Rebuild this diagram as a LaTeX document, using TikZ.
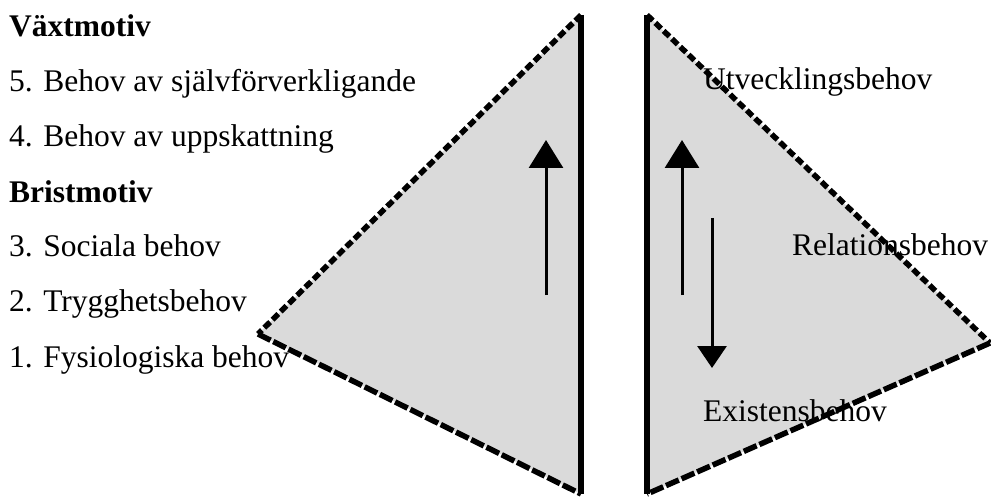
\documentclass[tikz,border=0pt]{standalone}
\usepackage{fontspec}
\setmainfont{Liberation Serif}
\usetikzlibrary{arrows.meta}
\definecolor{trifill}{RGB}{218,218,218}
\begin{document}
\begin{tikzpicture}[x=1pt,y=-1pt,
  lbl/.style={anchor=base west,inner sep=0pt,font=\fontsize{31.5}{31.5}\selectfont},
  headlbl/.style={anchor=base west,inner sep=0pt,font=\fontsize{31.5}{31.5}\selectfont\bfseries},
  upslant/.style={line width=5.5pt,dash pattern=on 8pt off 3.5pt},
  lowslant/.style={line width=5.5pt,dash pattern=on 14pt off 3pt},
  spine/.style={line width=6pt},
  arrup/.style={line width=3pt,-{Triangle[width=34pt,length=28pt]}},
  arrdn/.style={line width=3pt,-{Triangle[width=29pt,length=22pt]}}]
\useasboundingbox (0,0) rectangle (991,497);
% triangle corners
\coordinate (Ltop) at (581,15);
\coordinate (Lbot) at (581,494);
\coordinate (Ltip) at (258,334);
\coordinate (Rtop) at (647,15);
\coordinate (Rbot) at (647,494);
\coordinate (Rtip) at (990,343);
% fills
\fill[trifill] (Ltop) -- (Ltip) -- (Lbot) -- cycle;
\fill[trifill] (Rtop) -- (Rtip) -- (Rbot) -- cycle;
% left texts
\node[headlbl] (h1) at (9,37) {Växtmotiv};
\node[lbl] (t5) at (9,92) {5. Behov av självförverkligande};
\node[lbl] (t4) at (9,147) {4. Behov av uppskattning};
\node[headlbl] (h2) at (9,203) {Bristmotiv};
\node[lbl] (t3) at (9,257) {3. Sociala behov};
\node[lbl] (t2) at (9,312) {2. Trygghetsbehov};
\node[lbl] (t1) at (9,367) {1. Fysiologiska behov};
% right texts
\node[lbl] (u) at (703,90) {Utvecklingsbehov};
\node[lbl] (r) at (792,256) {Relationsbehov};
\node[lbl] (e) at (703,421) {Existensbehov};
% edges
\draw[upslant] (Ltop) -- (Ltip);
\draw[lowslant] (Ltip) -- (Lbot);
\draw[upslant] (Rtop) -- (Rtip);
\draw[lowslant] (Rtip) -- (Rbot);
\draw[spine] (Ltop) -- (Lbot);
\draw[spine] (Rtop) -- (Rbot);
% arrows
\coordinate (a1s) at (546,295);
\coordinate (a1e) at (546,140);
\coordinate (a2s) at (682,295);
\coordinate (a2e) at (682,140);
\coordinate (a3s) at (712,218);
\coordinate (a3e) at (712,368);
\draw[arrup] (a1s) -- (a1e);
\draw[arrup] (a2s) -- (a2e);
\draw[arrdn] (a3s) -- (a3e);
\end{tikzpicture}
\end{document}
